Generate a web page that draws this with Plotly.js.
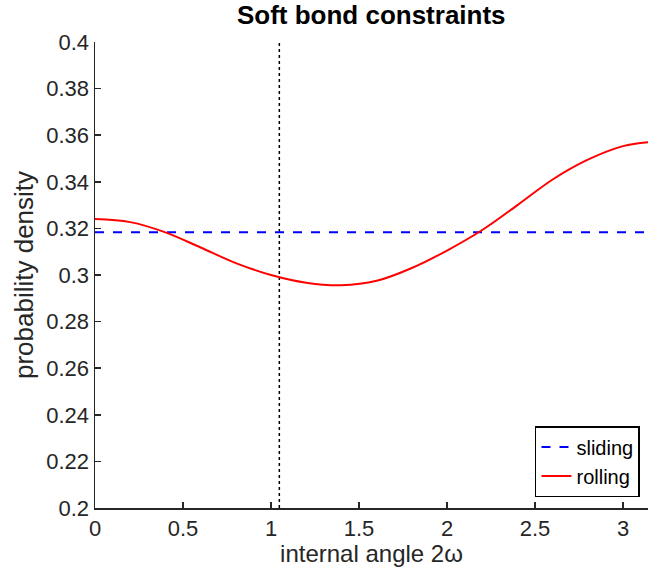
<!DOCTYPE html>
<html>
<head>
<meta charset="utf-8">
<script src="https://cdn.plot.ly/plotly-3.0.1.min.js"></script>
<style>html,body{margin:0;padding:0;background:#fff}#chart{width:660px;height:567px}</style>
</head>
<body>
<div id="chart"></div>
<script>
// Data
const rollingX = [0, 0.2, 0.4, 0.6, 0.8, 1.0, 1.2, 1.4, 1.6, 1.8, 2.0, 2.2, 2.4, 2.6, 2.8, 3.0, 3.1416];
const rollingY = [0.3240, 0.3227, 0.3183, 0.3118, 0.3051, 0.3000, 0.2967, 0.2956, 0.2975, 0.3030, 0.3105, 0.3193, 0.3300, 0.3410, 0.3495, 0.3553, 0.3570];
const slidingX = [0, 3.1416];
const slidingY = [0.3183, 0.3183];
const markerX = [1.0472, 1.0472];
const markerY = [0.2, 0.4];
const xTickVals = [0, 0.5, 1, 1.5, 2, 2.5, 3];
const xTickText = ["0", "0.5", "1", "1.5", "2", "2.5", "3"];
const yTickVals = [0.2, 0.22, 0.24, 0.26, 0.28, 0.3, 0.32, 0.34, 0.36, 0.38, 0.4];
const yTickText = ["0.2", "0.22", "0.24", "0.26", "0.28", "0.3", "0.32", "0.34", "0.36", "0.38", "0.4"];

const fontFam = "Liberation Sans, Arial, Helvetica, sans-serif";
const axisColor = "#262626";

const traces = [
  {x: markerX, y: markerY, mode: "lines", line: {color: "#000", width: 1.5, dash: "dot"}, showlegend: false, hoverinfo: "skip"},
  {x: slidingX, y: slidingY, mode: "lines", name: "sliding", line: {color: "#0000ff", width: 2, dash: "dash"}},
  {x: rollingX, y: rollingY, mode: "lines", name: "rolling", line: {color: "#ff0000", width: 2, shape: "spline", smoothing: 1}}
];

const layout = {
  width: 660, height: 567,
  margin: {l: 95, r: 12, t: 42, b: 59},
  paper_bgcolor: "#fff", plot_bgcolor: "#fff",
  font: {family: fontFam, size: 22, color: axisColor},
  title: {text: "<b>Soft bond constraints</b>", font: {family: fontFam, size: 26, color: "#000"}, x: 0.5625, xanchor: "center", y: 0.9894, yanchor: "top"},
  xaxis: {
    range: [0, 3.1416], tickmode: "array", tickvals: xTickVals, ticktext: xTickText,
    ticks: "inside", ticklen: 6, tickwidth: 1.5, tickcolor: axisColor,
    showline: true, linecolor: axisColor, linewidth: 1.5, showgrid: false, zeroline: false, mirror: false,
    title: {text: "internal angle 2ω", font: {size: 24, color: axisColor}}
  },
  yaxis: {
    range: [0.2, 0.4], tickmode: "array", tickvals: yTickVals, ticktext: yTickText,
    ticks: "inside", ticklen: 6, tickwidth: 1.5, tickcolor: axisColor,
    showline: true, linecolor: axisColor, linewidth: 1.5, showgrid: false, zeroline: false, mirror: false,
    title: {text: "probability density", font: {size: 26, color: axisColor}}
  },
  legend: {
    x: 0.9855, y: 0.0236, xanchor: "right", yanchor: "bottom",
    bgcolor: "#fff", bordercolor: "#000", borderwidth: 1.5,
    font: {size: 20, color: "#000"}, tracegroupgap: 0, itemwidth: 30
  },
  showlegend: true
};

Plotly.newPlot("chart", traces, layout, {displayModeBar: false, staticPlot: true});
</script>
</body>
</html>
